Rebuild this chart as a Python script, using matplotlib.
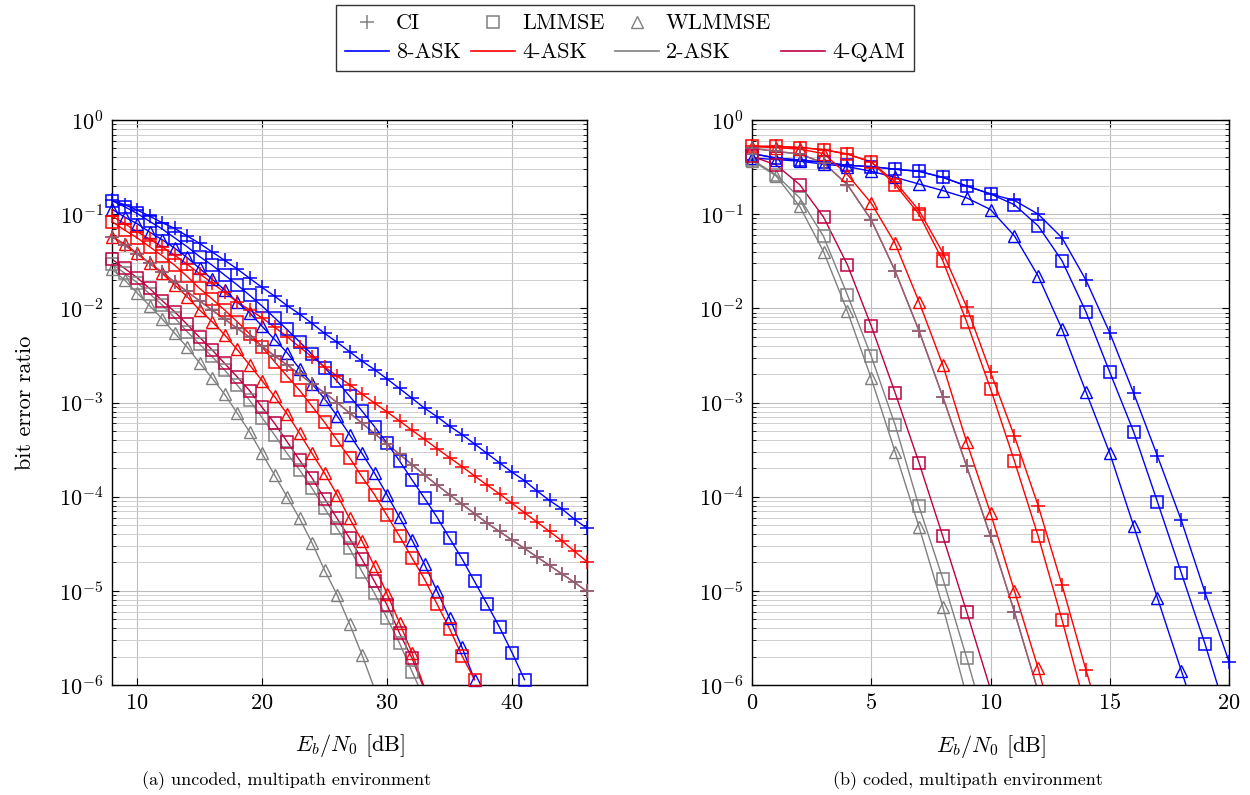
import numpy as np
import matplotlib
matplotlib.use('Agg')
import matplotlib.pyplot as plt
from matplotlib.lines import Line2D
from matplotlib.ticker import LogLocator, NullFormatter

plt.rcParams['font.family'] = 'cmr10'
plt.rcParams['mathtext.fontset'] = 'cm'
plt.rcParams['axes.formatter.use_mathtext'] = True
plt.rcParams['font.size'] = 15

# ---------------- data: (a) uncoded ----------------
snr_a = [8, 9, 10, 11, 12, 13, 14, 15, 16, 17, 18, 19, 20, 21, 22, 23, 24, 25, 26, 27,
         28, 29, 30, 31, 32, 33, 34, 35, 36, 37, 38, 39, 40, 41, 42, 43, 44, 45, 46]

a_8ask_ci = [0.141, 0.126, 0.111, 0.0955, 0.0813, 0.0708, 0.0589, 0.0490, 0.0398, 0.0324,
             0.0263, 0.0209, 0.0167, 0.0135, 0.0107, 0.00871, 0.00692, 0.00543, 0.00437, 0.00347,
             0.00275, 0.00224, 0.00178, 0.00141, 0.00111, 8.71e-4, 7.08e-4, 5.62e-4, 4.57e-4, 3.63e-4,
             2.88e-4, 2.29e-4, 1.82e-4, 1.48e-4, 1.15e-4, 9.12e-5, 7.41e-5, 5.75e-5, 4.62e-5]
a_8ask_lmmse = [0.139, 0.120, 0.102, 0.0841, 0.0697, 0.0562, 0.0452, 0.0355, 0.0288, 0.0226,
                0.0178, 0.0138, 0.0106, 0.00794, 0.00596, 0.00442, 0.00324, 0.00235, 0.00169, 0.00117,
                8.13e-4, 5.55e-4, 3.70e-4, 2.40e-4, 1.51e-4, 9.64e-5, 6.05e-5, 3.63e-5, 2.19e-5, 1.26e-5,
                7.24e-6, 4.11e-6, 2.21e-6, 1.14e-6]
a_8ask_wlmmse = [0.113, 0.0933, 0.0794, 0.0646, 0.0537, 0.0437, 0.0347, 0.0266, 0.0204, 0.0158,
                 0.0117, 0.00902, 0.00646, 0.00468, 0.00339, 0.00229, 0.00158, 0.00110, 7.24e-4, 4.57e-4,
                 2.88e-4, 1.78e-4, 1.05e-4, 6.03e-5, 3.47e-5, 1.91e-5, 1.0e-5, 5.13e-6, 2.51e-6, 1.14e-6]
a_4ask_ci = [0.0955, 0.0794, 0.0653, 0.0543, 0.0452, 0.0367, 0.0295, 0.0234, 0.0186, 0.0148,
             0.0117, 0.00966, 0.00794, 0.00631, 0.00501, 0.00389, 0.00305, 0.00240, 0.00191, 0.00155,
             0.00123, 9.89e-4, 7.94e-4, 6.38e-4, 5.07e-4, 4.07e-4, 3.24e-4, 2.60e-4, 2.09e-4, 1.66e-4,
             1.33e-4, 1.07e-4, 8.51e-5, 6.76e-5, 5.37e-5, 4.27e-5, 3.39e-5, 2.63e-5, 2.04e-5]
a_4ask_lmmse = [0.0832, 0.0679, 0.0562, 0.0452, 0.0363, 0.0288, 0.0219, 0.0163, 0.0126, 0.00962,
                0.00724, 0.00537, 0.00389, 0.00272, 0.00191, 0.00135, 9.12e-4, 6.17e-4, 3.98e-4, 2.60e-4,
                1.62e-4, 1.05e-4, 6.31e-5, 3.80e-5, 2.24e-5, 1.33e-5, 7.24e-6, 3.98e-6, 2.04e-6, 1.14e-6]
a_4ask_wlmmse = [0.0578, 0.0483, 0.0385, 0.0302, 0.0236, 0.0178, 0.0133, 0.00962, 0.00724, 0.00525,
                 0.00367, 0.00251, 0.00171, 0.00116, 7.59e-4, 4.72e-4, 2.88e-4, 1.78e-4, 1.05e-4, 5.89e-5,
                 3.39e-5, 1.82e-5, 9.33e-6, 4.57e-6, 2.19e-6, 9.33e-7]
a_2ask_ci = [0.0578, 0.0468, 0.0380, 0.0302, 0.0243, 0.0191, 0.0151, 0.0120, 0.00962, 0.00767,
             0.00617, 0.00493, 0.00398, 0.00313, 0.00251, 0.00200, 0.00158, 0.00127, 0.00100, 7.76e-4,
             6.03e-4, 4.68e-4, 3.63e-4, 2.82e-4, 2.19e-4, 1.70e-4, 1.33e-4, 1.05e-4, 8.32e-5, 6.61e-5,
             5.25e-5, 4.27e-5, 3.47e-5, 2.82e-5, 2.29e-5, 1.86e-5, 1.51e-5, 1.23e-5, 9.84e-6]
a_2ask_lmmse = [0.0295, 0.0237, 0.0188, 0.0143, 0.0109, 0.00798, 0.00566, 0.00416, 0.00308, 0.00222,
                0.00154, 0.00106, 6.92e-4, 4.53e-4, 2.88e-4, 1.93e-4, 1.23e-4, 7.59e-5, 4.62e-5, 2.84e-5,
                1.60e-5, 9.44e-6, 5.13e-6, 2.79e-6, 1.39e-6, 7.08e-7]
a_2ask_wlmmse = [0.0260, 0.0200, 0.0146, 0.0107, 0.00776, 0.00547, 0.00389, 0.00264, 0.00182, 0.00123,
                 7.76e-4, 4.90e-4, 2.88e-4, 1.70e-4, 1.0e-4, 5.89e-5, 3.24e-5, 1.66e-5, 9.12e-6, 4.47e-6,
                 2.09e-6, 9.12e-7]
a_4qam_ci = [0.0578, 0.0468, 0.0380, 0.0302, 0.0243, 0.0191, 0.0151, 0.0120, 0.00962, 0.00767,
             0.00617, 0.00493, 0.00398, 0.00313, 0.00251, 0.00200, 0.00158, 0.00127, 0.00100, 7.76e-4,
             6.03e-4, 4.68e-4, 3.63e-4, 2.82e-4, 2.19e-4, 1.70e-4, 1.33e-4, 1.05e-4, 8.32e-5, 6.61e-5,
             5.25e-5, 4.27e-5, 3.47e-5, 2.82e-5, 2.29e-5, 1.86e-5, 1.51e-5, 1.23e-5, 9.84e-6]
a_4qam_lmmse = [0.0332, 0.0266, 0.0212, 0.0163, 0.0121, 0.00923, 0.00678, 0.00493, 0.00363, 0.00261,
                0.00188, 0.00134, 8.91e-4, 6.03e-4, 3.85e-4, 2.45e-4, 1.58e-4, 9.55e-5, 5.89e-5, 3.63e-5,
                2.16e-5, 1.26e-5, 7.08e-6, 3.55e-6, 1.93e-6, 8.91e-7]

# ---------------- data: (b) coded ----------------
snr_b = [0, 1, 2, 3, 4, 5, 6, 7, 8, 9, 10, 11, 12, 13, 14, 15, 16, 17, 18, 19, 20]

b_8ask_ci = [0.44, 0.395, 0.375, 0.356, 0.33, 0.32, 0.30, 0.285, 0.246, 0.199, 0.164,
             0.14, 0.10, 0.056, 0.020, 0.0055, 1.26e-3, 2.7e-4, 5.6e-5, 9.5e-6, 1.77e-6]
b_8ask_lmmse = [0.44, 0.395, 0.375, 0.356, 0.33, 0.32, 0.30, 0.285, 0.246, 0.199, 0.164,
                0.126, 0.075, 0.032, 0.0092, 0.0021, 4.9e-4, 8.8e-5, 1.55e-5, 2.7e-6, 4.0e-7]
b_8ask_wlmmse = [0.395, 0.38, 0.365, 0.34, 0.32, 0.285, 0.246, 0.209, 0.178, 0.149, 0.112,
                 0.059, 0.022, 0.006, 0.0013, 2.9e-4, 4.9e-5, 8.4e-6, 1.42e-6, 2.4e-7]
b_4ask_ci = [0.525, 0.525, 0.51, 0.484, 0.435, 0.358, 0.22, 0.11, 0.039, 0.0104, 0.0021,
             4.4e-4, 8.0e-5, 1.15e-5, 1.45e-6, 2.0e-7]
b_4ask_lmmse = [0.525, 0.525, 0.51, 0.484, 0.435, 0.358, 0.206, 0.10, 0.032, 0.0072, 0.0014,
                2.4e-4, 3.8e-5, 4.9e-6, 5.6e-7]
b_4ask_wlmmse = [0.52, 0.51, 0.49, 0.44, 0.263, 0.131, 0.049, 0.0118, 0.0025, 3.8e-4, 6.7e-5,
                 1.0e-5, 1.5e-6, 1.7e-7]
b_2ask_ci = [0.50, 0.465, 0.435, 0.35, 0.206, 0.087, 0.025, 0.0058, 1.15e-3, 2.1e-4, 3.8e-5,
             6.0e-6, 8.5e-7]
b_2ask_lmmse = [0.38, 0.263, 0.149, 0.058, 0.0139, 0.0031, 5.8e-4, 7.9e-5, 1.35e-5, 1.95e-6, 2.5e-7]
b_2ask_wlmmse = [0.37, 0.256, 0.121, 0.040, 0.0093, 0.0018, 3.0e-4, 4.8e-5, 6.8e-6, 7.6e-7]
b_4qam_ci = [0.50, 0.465, 0.435, 0.35, 0.206, 0.087, 0.025, 0.0058, 1.15e-3, 2.1e-4, 3.8e-5,
             6.0e-6, 8.5e-7]
b_4qam_lmmse = [0.41, 0.335, 0.206, 0.093, 0.029, 0.0065, 1.27e-3, 2.3e-4, 3.8e-5, 6.0e-6, 9.0e-7]

xticks_a = [10, 20, 30, 40]
xticks_b = [0, 5, 10, 15, 20]
mod_labels = ['8-ASK', '4-ASK', '2-ASK', '4-QAM']
det_labels = ['CI', 'LMMSE', 'WLMMSE']

BLUE = (0, 0, 1)
RED = (1, 0, 0)
GRAY = (0.5, 0.5, 0.5)
PURPLE = (0.75, 0, 0.25)
YMIN, YMAX = 1e-6, 1.0

MARK = {'ci': dict(marker='+', ms=9.5, mew=1.1),
        'lmmse': dict(marker='s', ms=9, mew=1.1, mfc='none'),
        'wlmmse': dict(marker='^', ms=8, mew=1.0, mfc='none')}

fig = plt.figure(figsize=(12.5, 7.95), dpi=100)
ax_a = fig.add_axes([112 / 1250, 1 - 685 / 795, 475 / 1250, 565 / 795])
ax_b = fig.add_axes([752 / 1250, 1 - 685 / 795, 477 / 1250, 565 / 795])


def curve(ax, xs, ys, color, kind, alpha=1.0):
    xs = np.asarray(xs[:len(ys)], float)
    ys = np.asarray(ys, float)
    ax.plot(xs, ys, color=color, lw=1.0, alpha=alpha, zorder=2, clip_on=True)
    keep = ys >= YMIN
    ax.plot(xs[keep], ys[keep], ls='none', color=color, alpha=alpha, zorder=3,
            clip_on=False, **MARK[kind])


def draw(ax, xs, series):
    for ys, color, kind, alpha in series:
        curve(ax, xs, ys, color, kind, alpha)


draw(ax_a, snr_a, [
    (a_8ask_ci, BLUE, 'ci', 1), (a_8ask_lmmse, BLUE, 'lmmse', 1), (a_8ask_wlmmse, BLUE, 'wlmmse', 1),
    (a_4ask_ci, RED, 'ci', 1), (a_4ask_lmmse, RED, 'lmmse', 1), (a_4ask_wlmmse, RED, 'wlmmse', 1),
    (a_4qam_ci, PURPLE, 'ci', 1), (a_2ask_ci, GRAY, 'ci', 0.8),
    (a_2ask_lmmse, GRAY, 'lmmse', 1), (a_2ask_wlmmse, GRAY, 'wlmmse', 1),
    (a_4qam_lmmse, PURPLE, 'lmmse', 1),
])
draw(ax_b, snr_b, [
    (b_8ask_ci, BLUE, 'ci', 1), (b_8ask_lmmse, BLUE, 'lmmse', 1), (b_8ask_wlmmse, BLUE, 'wlmmse', 1),
    (b_4ask_ci, RED, 'ci', 1), (b_4ask_lmmse, RED, 'lmmse', 1), (b_4ask_wlmmse, RED, 'wlmmse', 1),
    (b_4qam_ci, PURPLE, 'ci', 1), (b_2ask_ci, GRAY, 'ci', 0.8),
    (b_2ask_lmmse, GRAY, 'lmmse', 1), (b_2ask_wlmmse, GRAY, 'wlmmse', 1),
    (b_4qam_lmmse, PURPLE, 'lmmse', 1),
])

for ax, xl, xt in [(ax_a, (8, 46), xticks_a), (ax_b, (0, 20), xticks_b)]:
    ax.set_yscale('log')
    ax.set_xlim(*xl)
    ax.set_ylim(YMIN, YMAX)
    ax.set_xticks(xt)
    ax.yaxis.set_major_locator(LogLocator(base=10, numticks=10))
    ax.yaxis.set_minor_locator(LogLocator(base=10, subs=np.arange(2, 10), numticks=20))
    ax.yaxis.set_minor_formatter(NullFormatter())
    ax.grid(True, which='major', color='#bdbdbd', lw=0.8, zorder=0)
    ax.grid(True, which='minor', axis='y', color='#cfcfcf', lw=0.7, zorder=0)
    ax.set_axisbelow(True)
    ax.tick_params(which='both', direction='in', top=True, right=True, labelsize=16)
    ax.tick_params(which='major', length=5, width=0.8, pad=6)
    ax.tick_params(which='minor', length=3, width=0.6)
    for s in ax.spines.values():
        s.set_linewidth(1.0)
    ax.set_xlabel(r'$E_b/N_0$ [dB]', fontsize=16, labelpad=14)

ax_a.set_ylabel('bit error ratio', fontsize=16, labelpad=17)

fig.text(287 / 1250, 1 - 781 / 795, '(a) uncoded, multipath environment',
         ha='center', va='center', fontsize=13)
fig.text(968 / 1250, 1 - 781 / 795, '(b) coded, multipath environment',
         ha='center', va='center', fontsize=13)

# legend
h_ci = Line2D([], [], ls='none', color=GRAY, **MARK['ci'])
h_lm = Line2D([], [], ls='none', color=GRAY, **MARK['lmmse'])
h_wl = Line2D([], [], ls='none', color=GRAY, **MARK['wlmmse'])
h_blank = Line2D([], [], ls='none')
h_8 = Line2D([], [], color=BLUE, lw=1.2)
h_4 = Line2D([], [], color=RED, lw=1.2)
h_2 = Line2D([], [], color=GRAY, lw=1.2)
h_q = Line2D([], [], color=PURPLE, lw=1.2)
handles = [h_ci, h_8, h_lm, h_4, h_wl, h_2, h_blank, h_q]
labels = [det_labels[0], mod_labels[0], det_labels[1], mod_labels[1],
          det_labels[2], mod_labels[2], '', mod_labels[3]]
leg = fig.legend(handles, labels, loc='upper center', bbox_to_anchor=(625 / 1250, 1 - 5 / 795),
                 ncol=4, frameon=True, fancybox=False, edgecolor='black', fontsize=16,
                 handlelength=2.0, handletextpad=0.3, columnspacing=0.45, numpoints=1,
                 borderpad=0.4, labelspacing=0.42, borderaxespad=0)
leg.get_frame().set_linewidth(1.0)

fig.savefig('out.png', dpi=100)
